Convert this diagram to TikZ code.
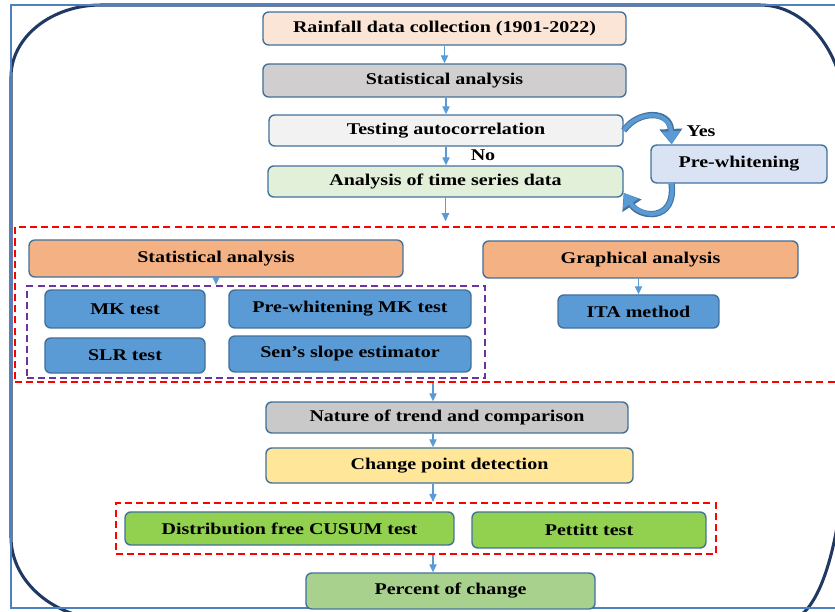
\documentclass[tikz,border=0pt]{standalone}
\usepackage{fontspec}
\setmainfont{Liberation Serif}
\newfontfamily\boxfont[FakeStretch=1.22]{Liberation Serif}
\usepackage{tikz}
\usetikzlibrary{arrows.meta,calc}

\definecolor{boxline}{HTML}{41719C}
\definecolor{arrowblue}{HTML}{5B9BD5}
\definecolor{framecol}{HTML}{4F81BD}
\definecolor{navy}{HTML}{1F3864}
\definecolor{purp}{HTML}{7030A0}
\definecolor{rainfill}{HTML}{FBE5D6}
\definecolor{statfill}{HTML}{D0CECE}
\definecolor{testfill}{HTML}{F2F2F2}
\definecolor{anafill}{HTML}{E2F0D9}
\definecolor{pwfill}{HTML}{DAE3F3}
\definecolor{orangefill}{HTML}{F4B183}
\definecolor{bluefill}{HTML}{5B9BD5}
\definecolor{natfill}{HTML}{C9C9C9}
\definecolor{cpdfill}{HTML}{FFE699}
\definecolor{greenfill}{HTML}{92D050}
\definecolor{pctfill}{HTML}{A9D18E}

\begin{document}
\begin{tikzpicture}[
x=0.03cm, y=-0.03cm,
box/.style={draw=boxline, line width=1.2pt, rounded corners=5pt, inner sep=0pt, align=center, font=\boxfont\bfseries\fontsize{14}{16}\selectfont},
lbl/.style={font=\boxfont\bfseries\fontsize{14}{16}\selectfont, inner sep=0pt},
grp/.style={draw=red, line width=2pt, dash pattern=on 6pt off 3.5pt, inner sep=0pt},
arrow/.style={-{Triangle[length=2.4mm,width=2.2mm]}, line width=0.9pt, arrowblue},
loopedge/.style={-{Triangle[length=4.6mm,width=6.6mm]}, line width=5.4pt, boxline},
loop/.style={-{Triangle[length=3.9mm,width=5.2mm]}, line width=3.6pt, arrowblue}
]
\useasboundingbox (0,0) rectangle (835,611);
\clip (0,0) rectangle (835,611);

% rounded outline and frame
\draw[navy, line width=2.6pt] (11,537) -- (11,77)
  arc[start angle=180, end angle=270, x radius=90, y radius=72] -- (760,5)
  arc[start angle=270, end angle=360, x radius=85, y radius=110] -- (845,430)
  arc[start angle=0, end angle=90, x radius=57, y radius=190] -- (111,620)
  arc[start angle=90, end angle=180, x radius=100, y radius=83] -- cycle;
\draw[framecol, line width=1.4pt] (11,5) rectangle (850,608);

% upper chain
\node[box, fill=rainfill, minimum width=309.9pt, minimum height=28.2pt] (rain) at (444.5,28.5) {Rainfall data collection (1901-2022)};
\node[box, fill=statfill, minimum width=309.9pt, minimum height=28.2pt] (stat) at (444.5,80.5) {Statistical analysis};
\node[box, fill=testfill, minimum width=302.2pt, minimum height=26.5pt] (tac) at (446,130.5) {Testing autocorrelation};
\node[box, fill=anafill, minimum width=303pt, minimum height=26.5pt] (ana) at (445.5,181.5) {Analysis of time series data};
\node[box, fill=pwfill, minimum width=150.2pt, minimum height=32.4pt] (pw) at (739,164) {Pre-whitening};
\node[lbl] (yes) at (701,131) {Yes};
\node[lbl] (no) at (483,155) {No};

% trend analysis group
\node[grp, minimum width=712.7pt, minimum height=132.3pt] (trend) at (432.5,304.5) {};
\node[grp, draw=purp, minimum width=391pt, minimum height=78.5pt] (tests) at (256,332) {};
\node[box, fill=orangefill, minimum width=319.2pt, minimum height=31.6pt] (sa) at (216,258.5) {Statistical analysis};
\node[box, fill=orangefill, minimum width=268.9pt, minimum height=31.6pt] (ga) at (640.5,259.5) {Graphical analysis};
\node[box, fill=bluefill, minimum width=136.6pt, minimum height=32.4pt] (mk) at (125,309) {MK test};
\node[box, fill=bluefill, minimum width=206.6pt, minimum height=32.4pt] (pwmk) at (350,309) {Pre-whitening MK test};
\node[box, fill=bluefill, minimum width=136.6pt, minimum height=29.9pt] (slr) at (125,355.5) {SLR test};
\node[box, fill=bluefill, minimum width=206.6pt, minimum height=30.7pt] (sen) at (350,354) {Sen’s slope estimator};
\node[box, fill=bluefill, minimum width=137.4pt, minimum height=28.2pt] (ita) at (638.5,311.5) {ITA method};

% lower chain
\node[box, fill=natfill, minimum width=309pt, minimum height=26.5pt] (nat) at (447,417.5) {Nature of trend and comparison};
\node[box, fill=cpdfill, minimum width=313.3pt, minimum height=29.9pt] (cpd) at (449.5,465.5) {Change point detection};
\node[grp, minimum width=512.2pt, minimum height=43.5pt] (cpgrp) at (416,528.5) {};
\node[box, fill=greenfill, minimum width=280.8pt, minimum height=28.2pt] (cusum) at (289.5,528.5) {Distribution free CUSUM test};
\node[box, fill=greenfill, minimum width=199.7pt, minimum height=30.7pt] (pet) at (589,530) {Pettitt test};
\node[box, fill=pctfill, minimum width=246.7pt, minimum height=30.7pt] (pct) at (450.5,591) {Percent of change};
\coordinate (lowx) at (433,0);

% connectors
\draw[arrow] (rain) -- (stat);
\draw[arrow] (tac.north |- stat.south) -- (tac.north);
\draw[arrow] (tac.south) -- (tac.south |- ana.north);
\draw[arrow, shorten >=4pt] (ana.south) -- (ana.south |- trend.north);
\foreach \s in {loopedge,loop} {
  \draw[\s] (tac.east) .. controls (638,110) and (670,110) .. ($(pw.north west)!0.12!(pw.north east)$);
  \draw[\s] ($(pw.south west)!0.12!(pw.south east)$) .. controls (676,222) and (640,218) .. ($(ana.east)!0.7!(ana.south east)$);
}
\draw[arrow] (sa.south) -- (sa.south |- tests.north);
\draw[arrow] (ga.south -| ita.north) -- (ita.north);
\draw[arrow] (trend.south -| lowx) -- (nat.north -| lowx);
\draw[arrow] (nat.south -| lowx) -- (cpd.north -| lowx);
\draw[arrow] (cpd.south -| lowx) -- (cpgrp.north -| lowx);
\draw[arrow] (cpgrp.south -| lowx) -- (pct.north -| lowx);
\end{tikzpicture}
\end{document}
